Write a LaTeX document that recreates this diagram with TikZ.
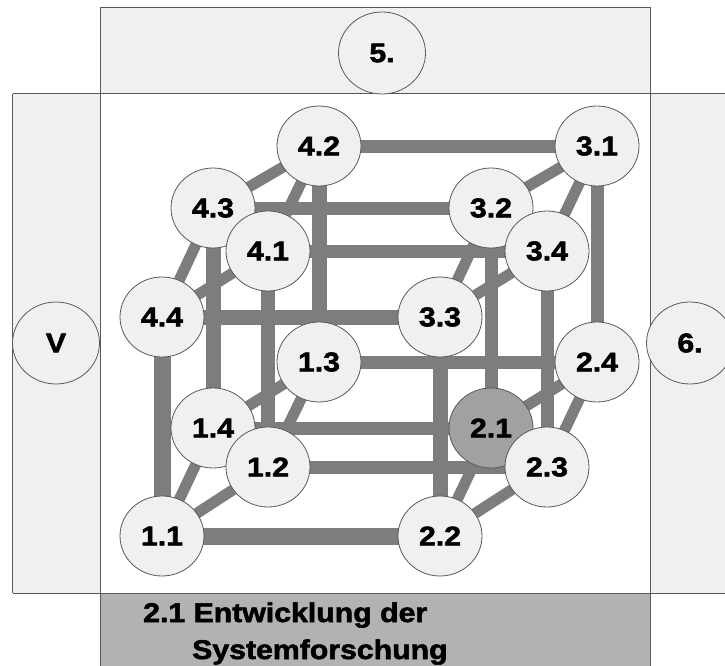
\documentclass[tikz,border=0pt]{standalone}
\usepackage{fontspec}
\newfontfamily\lbl{Liberation Sans Bold}[FakeStretch=1.12,FakeBold=2]
\usetikzlibrary{shapes.geometric}
\pgfdeclarelayer{panels}
\pgfdeclarelayer{bars}
\pgfsetlayers{panels,bars,main}
\definecolor{panelc}{gray}{0.94}
\definecolor{barc}{gray}{0.49}
\definecolor{nodefill}{gray}{0.94}
\definecolor{hotc}{gray}{0.63}
\definecolor{bottomc}{gray}{0.70}
\definecolor{edgec}{gray}{0.35}
\begin{document}
\begin{tikzpicture}[x=1pt,y=-1pt,
  vtx/.style={ellipse,draw=edgec,line width=0.8pt,fill=nodefill,minimum width=84pt,minimum height=80pt,inner sep=0pt,font=\lbl\fontsize{27}{27}\selectfont},
  side/.style={vtx,minimum width=87pt,minimum height=82pt},
  bar/.style={draw=barc,line width=13pt,shorten <=-5pt,shorten >=-5pt},
  fbar/.style={bar,line width=17pt},
  dbar/.style={bar,line width=11pt},
  frame/.style={draw=edgec,line width=1pt},
  title/.style={anchor=base west,inner sep=0pt,font=\lbl\fontsize{27}{27}\selectfont}
]
\useasboundingbox (0,0) rectangle (725,666);
\begin{pgfonlayer}{panels}
\fill[panelc] (100,8) rectangle (650,94);
\fill[panelc] (12.5,94) rectangle (100,593);
\fill[panelc] (650,94) rectangle (725,593);
\fill[bottomc] (100,593) rectangle (650,666);
\draw[frame] (100,666) -- (100,8) -- (650,8) -- (650,666);
\draw[frame] (12.5,94) -- (725,94);
\draw[frame] (12.5,593) -- (725,593);
\draw[frame] (12.5,94) -- (12.5,593);
\end{pgfonlayer}

% side circles
\node[side] (s5) at (382,53) {5.};
\node[side] (sV) at (56,343) {V};
\node[side] (s6) at (690,343) {6.};

% hypercube vertices
\node[vtx] (n42) at (319,146) {4.2};
\node[vtx] (n43) at (213,208) {4.3};
\node[vtx] (n41) at (268,251) {4.1};
\node[vtx] (n44) at (162,317) {4.4};
\node[vtx] (n31) at (597,146) {3.1};
\node[vtx] (n32) at (491,208) {3.2};
\node[vtx] (n34) at (547,251) {3.4};
\node[vtx] (n33) at (440,317) {3.3};
\node[vtx] (n13) at (319,362) {1.3};
\node[vtx] (n14) at (213,428) {1.4};
\node[vtx] (n12) at (268,467) {1.2};
\node[vtx] (n11) at (162,536) {1.1};
\node[vtx] (n24) at (597,362) {2.4};
\node[vtx,fill=hotc] (n21) at (491,428) {2.1};
\node[vtx] (n23) at (547,467) {2.3};
\node[vtx] (n22) at (440,536) {2.2};

\begin{pgfonlayer}{bars}
% front square
\draw[fbar] (n11) -- (n22);
\draw[fbar] (n11) -- (n44);
\draw[bar,line width=15pt] (n44) -- (n33);
\draw[bar,line width=15pt] (n22) -- (n33);
% horizontal group 1 - group 2
\draw[bar] (n12) -- (n23);
\draw[bar] (n13) -- (n24);
\draw[bar] (n14) -- (n21);
% horizontal group 4 - group 3
\draw[bar] (n42) -- (n31);
\draw[bar] (n43) -- (n32);
\draw[bar] (n41) -- (n34);
% vertical group 1 - group 4
\draw[bar,line width=15pt] (n14) -- (n43);
\draw[bar,line width=14pt] (n12) -- (n41);
\draw[bar,line width=15pt] (n13) -- (n42);
% vertical group 2 - group 3
\draw[bar] (n21) -- (n32);
\draw[bar] (n23) -- (n34);
\draw[bar] (n24) -- (n31);
% small quads
\draw[dbar] (n11) -- (n12);
\draw[dbar] (n12) -- (n13);
\draw[dbar] (n13) -- (n14);
\draw[dbar] (n14) -- (n11);
\draw[dbar] (n21) -- (n22);
\draw[dbar] (n22) -- (n23);
\draw[dbar] (n23) -- (n24);
\draw[dbar] (n24) -- (n21);
\draw[dbar] (n31) -- (n32);
\draw[dbar] (n32) -- (n33);
\draw[dbar] (n33) -- (n34);
\draw[dbar] (n34) -- (n31);
\draw[dbar] (n41) -- (n42);
\draw[dbar] (n42) -- (n43);
\draw[dbar] (n43) -- (n44);
\draw[dbar] (n44) -- (n41);
\end{pgfonlayer}

\node[title] (t1) at (143,622) {2.1 Entwicklung der};
\node[title] (t2) at (192,659) {Systemforschung};
\end{tikzpicture}
\end{document}
